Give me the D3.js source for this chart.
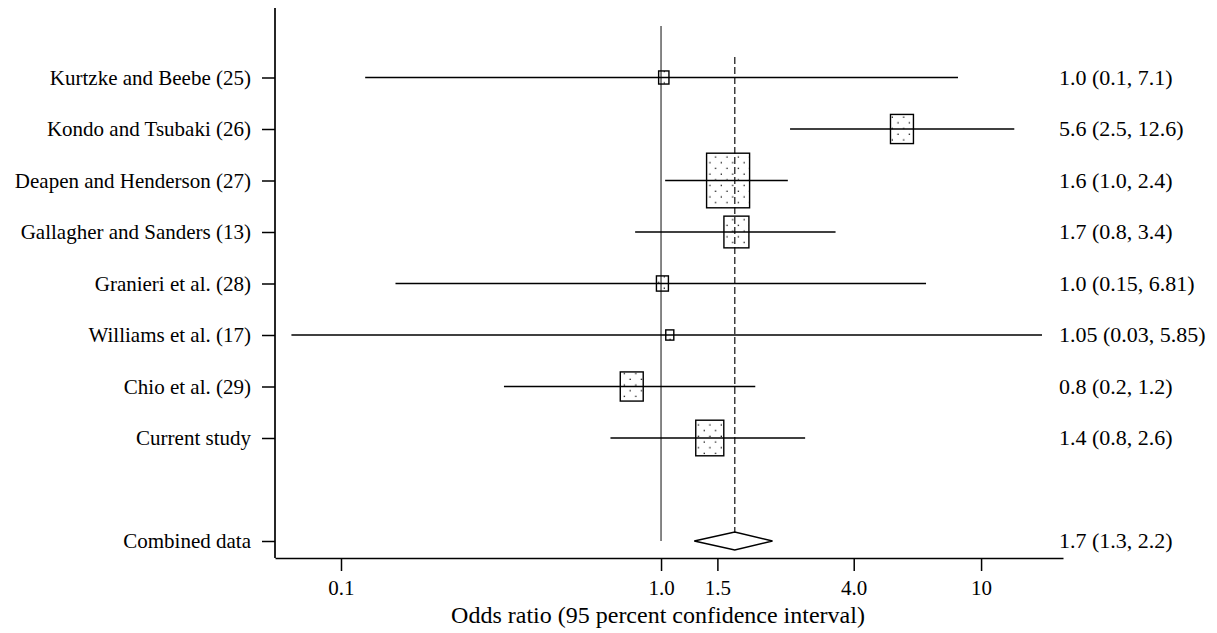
<!DOCTYPE html>
<html>
<head>
<meta charset="utf-8">
<script src="https://cdn.jsdelivr.net/npm/d3@7"></script>
<style>
  html, body { margin: 0; padding: 0; background: #fff; }
  svg { display: block; }
  text { font-family: "Liberation Serif", "Times New Roman", serif; fill: #000; }
</style>
</head>
<body>
<div id="chart"></div>
<script>
// ── data ──────────────────────────────────────────────────────────────────
const studies = [
  "Kurtzke and Beebe (25)",
  "Kondo and Tsubaki (26)",
  "Deapen and Henderson (27)",
  "Gallagher and Sanders (13)",
  "Granieri et al. (28)",
  "Williams et al. (17)",
  "Chio et al. (29)",
  "Current study"
];
// plotted positions (as drawn in the figure)
const oddsRatio = [1.02, 5.66, 1.62, 1.72, 1.01, 1.065, 0.81, 1.42];
const ciLower   = [0.119, 2.53, 1.03, 0.83, 0.148, 0.070, 0.323, 0.695];
const ciUpper   = [8.47, 12.7, 2.49, 3.51, 6.73, 15.5, 1.97, 2.82];
// relative study weight (%), drives box size
const weights   = [2.3, 11.4, 40.0, 13.5, 3.1, 1.4, 11.4, 17.0];
const ciText = [
  "1.0 (0.1, 7.1)",
  "5.6 (2.5, 12.6)",
  "1.6 (1.0, 2.4)",
  "1.7 (0.8, 3.4)",
  "1.0 (0.15, 6.81)",
  "1.05 (0.03, 5.85)",
  "0.8 (0.2, 1.2)",
  "1.4 (0.8, 2.6)"
];

const combinedLabel = "Combined data";
const combinedOR = 1.7;
const combinedLower = 1.27;
const combinedUpper = 2.23;
const combinedText = "1.7 (1.3, 2.2)";

const tickValues = [0.1, 1, 1.5, 4, 10];
const tickLabels = ["0.1", "1.0", "1.5", "4.0", "10"];
const xTitle = "Odds ratio (95 percent confidence interval)";

// ── layout ────────────────────────────────────────────────────────────────
const W = 1217, H = 633;
const plotLeft = 275, plotRight = 1063, plotTop = 8, plotBottom = 558;
const FONT = 21;

const svg = d3.select('#chart').append('svg')
  .attr('width', W)
  .attr('height', H)
  .style('background', '#fff');

// dotted fill for the study boxes
const defs = svg.append('defs');
const pat = defs.append('pattern')
  .attr('id', 'dots')
  .attr('patternUnits', 'userSpaceOnUse')
  .attr('width', 11.4)
  .attr('height', 11.4);
pat.append('rect').attr('x', 2.5).attr('y', 2.5).attr('width', 1.3).attr('height', 1.3).attr('fill', '#111');
pat.append('rect').attr('x', 8.2).attr('y', 8.2).attr('width', 1.3).attr('height', 1.3).attr('fill', '#111');

// x: log scale, 320 px per decade
const x = d3.scaleLog()
  .domain([0.0622, 18.03])
  .range([plotLeft, plotRight]);

// y: one slot per row, an empty slot before the combined row
const rowKeys = studies.concat(['__gap__', combinedLabel]);
const y = d3.scalePoint()
  .domain(rowKeys)
  .range([77.5, 541]);
const step = y.step();

const box = d3.scaleSqrt().domain([0, 40]).range([0, 43]);

// frame: y axis line
svg.append('line')
  .attr('x1', plotLeft).attr('x2', plotLeft)
  .attr('y1', plotTop).attr('y2', plotBottom)
  .attr('stroke', '#000')
  .attr('stroke-width', 1.7);

// y axis ticks + labels
const yAxis = d3.axisLeft(y)
  .tickValues(studies.concat([combinedLabel]))
  .tickSize(13)
  .tickPadding(11);
const gy = svg.append('g')
  .attr('transform', `translate(${plotLeft},0)`)
  .call(yAxis);
gy.select('.domain').remove();
gy.selectAll('.tick line').attr('stroke', '#000').attr('stroke-width', 1.5);
gy.selectAll('.tick text')
  .attr('font-size', FONT)
  .attr('font-family', '"Liberation Serif", "Times New Roman", serif')
  .attr('fill', '#000');

// x axis
const xAxis = d3.axisBottom(x)
  .tickValues(tickValues)
  .tickFormat((d, i) => tickLabels[i])
  .tickSize(13)
  .tickSizeOuter(0)
  .tickPadding(9);
const gx = svg.append('g')
  .attr('transform', `translate(0,${plotBottom})`)
  .call(xAxis);
gx.select('.domain').attr('stroke', '#000').attr('stroke-width', 1.7);
gx.selectAll('.tick line').attr('stroke', '#000').attr('stroke-width', 1.5);
gx.selectAll('.tick text')
  .attr('font-size', FONT)
  .attr('font-family', '"Liberation Serif", "Times New Roman", serif')
  .attr('fill', '#000');

svg.append('text')
  .attr('x', 658)
  .attr('y', 623)
  .attr('text-anchor', 'middle')
  .attr('font-size', 24)
  .text(xTitle);

// no-effect line at OR = 1
svg.append('line')
  .attr('x1', x(1)).attr('x2', x(1))
  .attr('y1', y(studies[0]) - step).attr('y2', y(combinedLabel))
  .attr('stroke', '#444')
  .attr('stroke-width', 1.3);

// dashed line at the combined estimate
const dHalf = 9;
svg.append('line')
  .attr('x1', x(combinedOR)).attr('x2', x(combinedOR))
  .attr('y1', y(studies[0]) - 20.5).attr('y2', y(combinedLabel) - dHalf)
  .attr('stroke', '#222')
  .attr('stroke-width', 1.3)
  .attr('stroke-dasharray', '7,3');

// study rows
const rows = studies.map((s, i) => ({
  name: s, or: oddsRatio[i], lo: ciLower[i], hi: ciUpper[i], w: weights[i], txt: ciText[i]
}));

svg.selectAll('.ci')
  .data(rows)
  .enter()
  .append('line')
  .attr('class', 'ci')
  .attr('x1', d => x(d.lo))
  .attr('x2', d => x(d.hi))
  .attr('y1', d => y(d.name))
  .attr('y2', d => y(d.name))
  .attr('stroke', '#000')
  .attr('stroke-width', 1.4);

svg.selectAll('.box')
  .data(rows)
  .enter()
  .append('rect')
  .attr('class', 'box')
  .attr('x', d => x(d.or) - box(d.w) / 2)
  .attr('y', d => y(d.name) - box(d.w) * 1.27 / 2)
  .attr('width', d => box(d.w))
  .attr('height', d => box(d.w) * 1.27)
  .attr('fill', 'url(#dots)')
  .attr('stroke', '#000')
  .attr('stroke-width', 1.4);

svg.selectAll('.ci-text')
  .data(rows)
  .enter()
  .append('text')
  .attr('class', 'ci-text')
  .attr('x', 1059)
  .attr('y', d => y(d.name))
  .attr('dy', '0.32em')
  .attr('font-size', 22)
  .text(d => d.txt);

// combined diamond
const cy = y(combinedLabel);
const diamond = [
  [x(combinedLower), cy],
  [x(combinedOR), cy - dHalf],
  [x(combinedUpper), cy],
  [x(combinedOR), cy + dHalf]
];
svg.append('path')
  .attr('d', d3.line()(diamond) + 'Z')
  .attr('fill', 'none')
  .attr('stroke', '#000')
  .attr('stroke-width', 1.4);

svg.append('text')
  .attr('x', 1059)
  .attr('y', cy)
  .attr('dy', '0.32em')
  .attr('font-size', 22)
  .text(combinedText);
</script>
</body>
</html>
